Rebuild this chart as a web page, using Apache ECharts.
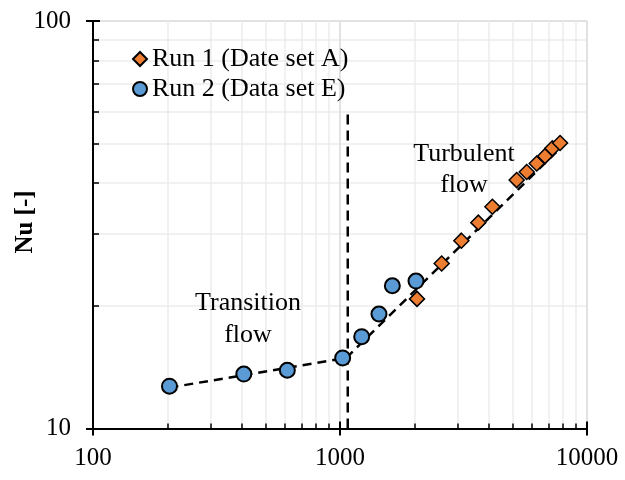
<!DOCTYPE html>
<html>
<head>
<meta charset="utf-8">
<script src="https://cdn.jsdelivr.net/npm/echarts@6/dist/echarts.min.js"></script>
<style>
  html, body { margin: 0; padding: 0; background: #fff; }
  #chart { width: 625px; height: 480px; }
</style>
</head>
<body>
<div id="chart"></div>
<script>
// Run 1 (orange diamonds)
var run1Re = [2050, 2580, 3100, 3630, 4140, 5190, 5700, 6260, 6760, 7240, 7780];
var run1Nu = [20.8, 25.4, 28.9, 32.0, 35.0, 40.7, 42.6, 44.7, 46.6, 48.7, 50.2];
// Run 2 (blue circles)
var run2Re = [204, 408, 612, 1025, 1224, 1438, 1629, 2031];
var run2Nu = [12.7, 13.6, 13.9, 14.9, 16.8, 19.1, 22.4, 23.0];
// dashed fit lines
var fitTransRe = [204, 1060];
var fitTransNu = [12.6, 14.9];
var fitTurbRe = [1060, 8500];
var fitTurbNu = [14.9, 51.3];
// vertical boundary
var boundaryRe = [1075, 1075];
var boundaryNu = [10, 59.5];

function pairs(xs, ys) {
  var out = [];
  for (var i = 0; i < xs.length; i++) out.push([xs[i], ys[i]]);
  return out;
}
function plain(v) { return String(v); }

var font = 'Liberation Serif';
var chart = echarts.init(document.getElementById('chart'));

// axes 0: grid lines + inside ticks, axes 1: outside ticks + labels
var gridAxisX = {
  type: 'log', logBase: 10, min: 100, max: 10000, position: 'bottom',
  axisLine: { show: true, lineStyle: { color: '#000', width: 2 } },
  axisTick: { show: true, inside: true, length: 7, lineStyle: { color: '#000', width: 2 } },
  minorTick: { show: true, splitNumber: 9, length: 5, lineStyle: { color: '#000', width: 1.5 } },
  splitLine: { show: true, lineStyle: { color: '#d9d9d9', width: 1.5 } },
  minorSplitLine: { show: true, lineStyle: { color: '#ededed', width: 1.5 } },
  axisLabel: { show: false }
};
var labelAxisX = {
  type: 'log', logBase: 10, min: 100, max: 10000, position: 'bottom',
  axisLine: { show: true, lineStyle: { color: '#000', width: 2 } },
  axisTick: { show: true, inside: false, length: 7, lineStyle: { color: '#000', width: 2 } },
  splitLine: { show: false },
  axisLabel: { margin: 17, color: '#000', fontFamily: font, fontSize: 25, formatter: plain }
};
var gridAxisY = {
  type: 'log', logBase: 10, min: 10, max: 100, position: 'left',
  axisLine: { show: true, lineStyle: { color: '#000', width: 2 } },
  axisTick: { show: true, inside: true, length: 7, lineStyle: { color: '#000', width: 2 } },
  minorTick: { show: true, splitNumber: 9, length: 6, lineStyle: { color: '#000', width: 1.5 } },
  splitLine: { show: true, lineStyle: { color: '#d9d9d9', width: 1.5 } },
  minorSplitLine: { show: true, lineStyle: { color: '#ededed', width: 1.5 } },
  axisLabel: { show: false }
};
var labelAxisY = {
  type: 'log', logBase: 10, min: 10, max: 100, position: 'left',
  axisLine: { show: true, lineStyle: { color: '#000', width: 2 } },
  axisTick: { show: true, inside: false, length: 7, lineStyle: { color: '#000', width: 2 } },
  splitLine: { show: false },
  axisLabel: { margin: 22, color: '#000', fontFamily: font, fontSize: 25, formatter: plain }
};

var dashed = { color: '#000', width: 2.5, type: [9, 6] };

option = {
  animation: false,
  grid: { left: 93, right: 38, top: 21, bottom: 51.5, outerBoundsMode: 'none', containLabel: false },
  xAxis: [gridAxisX, labelAxisX],
  yAxis: [gridAxisY, labelAxisY],
  legend: {
    orient: 'vertical', left: 127, top: 41,
    itemWidth: 14, itemHeight: 14, itemGap: 4,
    textStyle: { color: '#000', fontFamily: font, fontSize: 26, lineHeight: 26 },
    data: ['Run 1 (Date set A)', 'Run 2 (Data set E)']
  },
  graphic: [
    {
      type: 'text', x: 26, y: 222, rotation: Math.PI / 2, z: 100,
      style: { text: 'Nu [-]', align: 'center', verticalAlign: 'middle',
        fill: '#000', font: 'bold 25px "Liberation Serif"' }
    },
    {
      type: 'text', x: 248, y: 319, z: 100,
      style: { text: 'Transition\nflow', align: 'center', verticalAlign: 'middle',
        fill: '#000', font: '26px "Liberation Serif"', lineHeight: 32 }
    },
    {
      type: 'text', x: 464, y: 170, z: 100,
      style: { text: 'Turbulent\nflow', align: 'center', verticalAlign: 'middle',
        fill: '#000', font: '26px "Liberation Serif"', lineHeight: 31 }
    }
  ],
  series: [
    { type: 'line', data: pairs(fitTransRe, fitTransNu), symbol: 'none', lineStyle: dashed, z: 2, silent: true },
    { type: 'line', data: pairs(fitTurbRe, fitTurbNu), symbol: 'none', lineStyle: dashed, z: 2, silent: true },
    { type: 'line', data: pairs(boundaryRe, boundaryNu), symbol: 'none', lineStyle: { color: '#000', width: 2.5, type: [10, 6] }, z: 2, silent: true },
    {
      name: 'Run 1 (Date set A)', type: 'scatter', symbol: 'diamond', symbolSize: 15,
      data: pairs(run1Re, run1Nu), z: 4,
      itemStyle: { color: '#ED7D31', borderColor: '#000', borderWidth: 1.5, opacity: 1 }
    },
    {
      name: 'Run 2 (Data set E)', type: 'scatter', symbol: 'circle', symbolSize: 15,
      data: pairs(run2Re, run2Nu), z: 3,
      itemStyle: { color: '#5B9BD5', borderColor: '#000', borderWidth: 2, opacity: 1 }
    }
  ]
};
chart.setOption(option);
</script>
</body>
</html>
